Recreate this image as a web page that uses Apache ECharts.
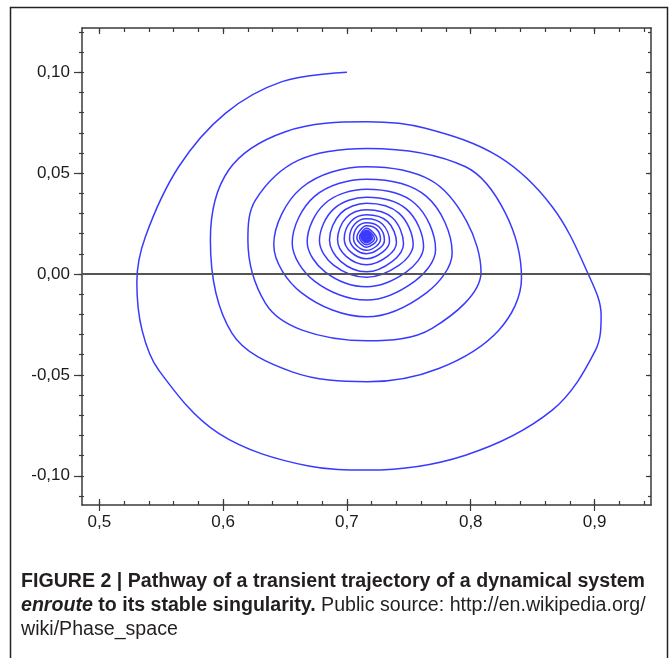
<!DOCTYPE html>
<html>
<head>
<meta charset="utf-8">
<script src="https://cdn.jsdelivr.net/npm/echarts@6/dist/echarts.min.js"></script>
<style>
html, body { margin: 0; padding: 0; background: #fff; }
#main { width: 672px; height: 658px; }
</style>
</head>
<body>
<div id="main"></div>
<script>
// ticks
const xTicks = [0.5, 0.6, 0.7, 0.8, 0.9];
const xMinorTicks = [0.5, 0.52, 0.54, 0.56, 0.58, 0.6, 0.62, 0.64, 0.66, 0.68, 0.7, 0.72, 0.74,
    0.76, 0.78, 0.8, 0.82, 0.84, 0.86, 0.88, 0.9, 0.92, 0.94];
const yTicks = [-0.1, -0.05, 0, 0.05, 0.1];
const yMinorTicks = [-0.11, -0.1, -0.09, -0.08, -0.07, -0.06, -0.05, -0.04, -0.03, -0.02, -0.01, 0,
    0.01, 0.02, 0.03, 0.04, 0.05, 0.06, 0.07, 0.08, 0.09, 0.1, 0.11, 0.12];

// trajectory (outside in)
const turn1 = [[0.700, 0.100], [0.6476, 0.0954], [0.6018, 0.0797], [0.5641, 0.0532], [0.5372, 0.0185],
    [0.5303, -0.004], [0.5345, -0.0278], [0.5479, -0.0476], [0.5964, -0.079], [0.6691, -0.0952],
    [0.7166, -0.0972], [0.7958, -0.0898], [0.8658, -0.0675], [0.9008, -0.0377], [0.9053, -0.0203],
    [0.8949, 0], [0.8658, 0.0334], [0.8227, 0.0582], [0.7634, 0.0723]];
const turn2 = [[0.7166, 0.0755], [0.6503, 0.0706], [0.6045, 0.0516], [0.5897, 0.0169], [0.6072, -0.0294],
    [0.6557, -0.0485], [0.7166, -0.0534], [0.7742, -0.0468], [0.8227, -0.0278], [0.841, -0.002],
    [0.8281, 0.0301], [0.7958, 0.0532]];
const turn3 = [[0.7166, 0.0623], [0.661, 0.0565], [0.6261, 0.0367], [0.62, 0.0169], [0.6341, -0.0144],
    [0.6638, -0.0278], [0.7166, -0.0331], [0.7688, -0.0269], [0.8083, 0.001], [0.7966, 0.0263],
    [0.7675, 0.0466]];
const turn4 = [[0.7158, 0.0532], [0.6634, 0.0428], [0.6409, 0.0145], [0.6634, -0.0093], [0.7158, -0.0212],
    [0.7642, -0.0093], [0.785, 0.0106], [0.7642, 0.0385]];
const turn5 = [[0.7158, 0.047], [0.6738, 0.0385], [0.6558, 0.0154], [0.6738, -0.0035], [0.7158, -0.0129],
    [0.7549, -0.0035], [0.7716, 0.0122], [0.7549, 0.035]];
const turn6 = [[0.7158, 0.042], [0.6823, 0.035], [0.6679, 0.016], [0.6823, 0.0011], [0.7158, -0.0063],
    [0.7481, 0.0011], [0.7619, 0.0135], [0.7481, 0.0322]];
const turn7 = [[0.7158, 0.0381], [0.6892, 0.0322], [0.6778, 0.0165], [0.6892, 0.0044], [0.7158, -0.0016],
    [0.7422, 0.0044], [0.7535, 0.0145], [0.7422, 0.0301]];
const turn8 = [[0.7158, 0.0351], [0.6949, 0.0301], [0.6859, 0.0168], [0.6949, 0.0063], [0.7158, 0.0011],
    [0.7367, 0.0063], [0.7457, 0.015], [0.7367, 0.0279]];
const turn9 = [[0.7158, 0.0319], [0.6994, 0.0279], [0.6924, 0.0171], [0.6994, 0.0088], [0.7158, 0.0046],
    [0.7327, 0.0088], [0.74, 0.0157], [0.7327, 0.0261]];
const turn10 = [[0.7158, 0.0294], [0.7032, 0.0261], [0.6978, 0.0174], [0.7032, 0.0109], [0.7158, 0.0076],
    [0.7288, 0.0109], [0.7344, 0.0163], [0.7288, 0.0247]];
const turn11 = [[0.7158, 0.0274], [0.7062, 0.0247], [0.7021, 0.0177], [0.7062, 0.0126], [0.7158, 0.0101],
    [0.726, 0.0126], [0.7303, 0.0168], [0.726, 0.0233]];
const turn12 = [[0.7158, 0.0254], [0.7084, 0.0233], [0.7053, 0.0178], [0.7084, 0.0138], [0.7158, 0.0118],
    [0.7237, 0.0138], [0.7271, 0.0172], [0.7237, 0.0224]];
// centre: top, left, bottom, right of each small turn
const centreTurns = [
    [0.7158, 0.024], [0.708, 0.018], [0.7158, 0.0133], [0.7243, 0.0172],
    [0.7158, 0.0227], [0.7101, 0.0181], [0.7158, 0.0145], [0.7223, 0.0175],
    [0.7158, 0.0217], [0.7114, 0.0182], [0.7158, 0.0155], [0.7206, 0.0177],
    [0.7158, 0.021], [0.7124, 0.0183], [0.7158, 0.0162], [0.7195, 0.0179],
    [0.7158, 0.0204], [0.7132, 0.0183], [0.7158, 0.0168], [0.7186, 0.018],
    [0.7158, 0.0199], [0.714, 0.0184], [0.7158, 0.0172], [0.7178, 0.0181],
    [0.7158, 0.0195], [0.7146, 0.0184], [0.7158, 0.0176], [0.7171, 0.0183],
    [0.7158, 0.0191], [0.7151, 0.0185], [0.7158, 0.018], [0.7165, 0.0184], [0.7158, 0.0186]
];

const trajectory = [].concat(turn1, turn2, turn3, turn4, turn5, turn6, turn7, turn8, turn9,
    turn10, turn11, turn12, centreTurns);

const X_MIN = 0.486, X_MAX = 0.9456;
const Y_MIN = -0.1145, Y_MAX = 0.122;
const AXIS_COLOR = '#3a3a3a';
const LABEL_FONT = 'Liberation Sans, Arial, sans-serif';

// one axis per tick style (ECharts gives one tick length per axis)
function axis(dir, position, ticks, len, inside, opts) {
    opts = opts || {};
    return {
        type: 'value',
        position: position,
        min: dir === 'x' ? X_MIN : Y_MIN,
        max: dir === 'x' ? X_MAX : Y_MAX,
        axisLine: { show: !!opts.line, onZero: false, lineStyle: { color: AXIS_COLOR, width: 1.5 } },
        axisTick: { show: true, inside: inside, length: len, customValues: ticks,
            lineStyle: { color: AXIS_COLOR, width: 1.2 } },
        axisLabel: opts.label ? {
            show: true, customValues: ticks, margin: opts.margin,
            color: '#1a1a1a', fontSize: 17, fontFamily: LABEL_FONT,
            formatter: v => v.toFixed(dir === 'x' ? 1 : 2).replace('.', ',')
        } : { show: false },
        splitLine: { show: false }
    };
}

let myChart = echarts.init(document.getElementById('main'));
myChart.setOption({
    backgroundColor: '#fff',
    animation: false,
    grid: { left: 82, right: 21, top: 28, bottom: 153 },
    xAxis: [
        axis('x', 'bottom', xTicks, 6, false, { label: true, line: true, margin: 9 }),
        axis('x', 'bottom', xTicks, 6, true),
        axis('x', 'bottom', xMinorTicks, 4, true),
        axis('x', 'top', xTicks, 6, true, { line: true }),
        axis('x', 'top', xMinorTicks, 4, true)
    ],
    yAxis: [
        axis('y', 'left', yTicks, 8, false, { label: true, line: true, margin: 12 }),
        axis('y', 'left', yTicks, 2, true),
        axis('y', 'left', yMinorTicks, 3, false),
        axis('y', 'left', yMinorTicks, 2, true),
        axis('y', 'right', yTicks, 5, true, { line: true }),
        axis('y', 'right', yMinorTicks, 3, true)
    ],
    series: [{
        type: 'line',
        data: trajectory,
        showSymbol: false,
        smooth: 0.35,
        lineStyle: { color: '#3a3aff', width: 1.5 },
        markLine: {
            silent: true,
            symbol: ['none', 'none'],
            label: { show: false },
            lineStyle: { color: '#555', width: 2, type: 'solid' },
            data: [{ yAxis: 0 }]
        }
    }],
    graphic: [
        {
            type: 'rect',
            shape: { x: 10.5, y: 7.5, width: 657, height: 700 },
            style: { fill: 'none', stroke: '#222', lineWidth: 1.5 }
        },
        {
            type: 'text',
            left: 21,
            top: 572,
            style: {
                text: '{b|FIGURE 2 | Pathway of a transient trajectory of a dynamical system}\n' +
                    '{bi|enroute}{b| to its stable singularity.}{r| Public source: http://en.wikipedia.org/}\n' +
                    '{r|wiki/Phase_space}',
                rich: {
                    b: { fontWeight: 'bold', fontSize: 19.6, lineHeight: 24, fontFamily: LABEL_FONT, fill: '#231f20' },
                    bi: { fontWeight: 'bold', fontStyle: 'italic', fontSize: 19.6, lineHeight: 24, fontFamily: LABEL_FONT, fill: '#231f20' },
                    r: { fontSize: 19.6, lineHeight: 24, fontFamily: LABEL_FONT, fill: '#231f20' }
                }
            }
        }
    ]
});
</script>
</body>
</html>
